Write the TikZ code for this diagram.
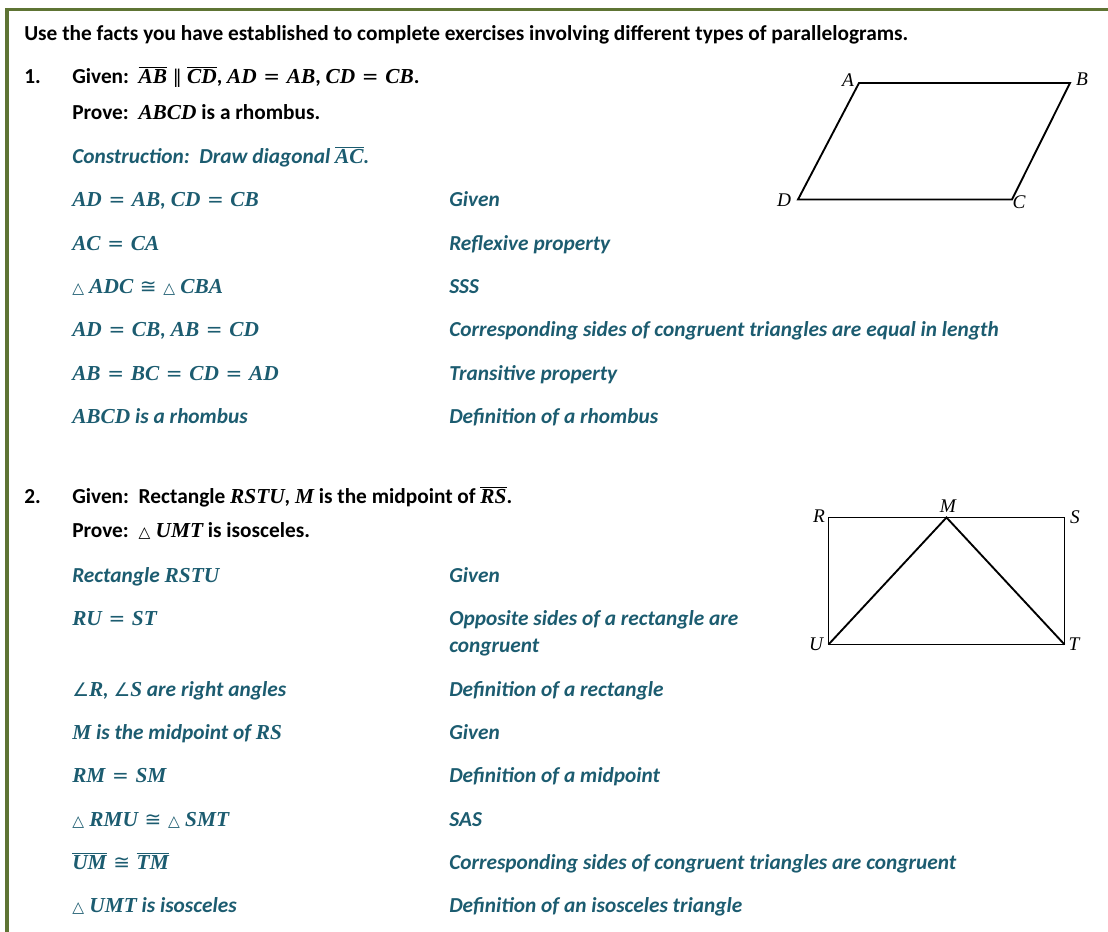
\documentclass[tikz,border=0pt]{standalone}
\usepackage{fontspec}
\setmainfont{Carlito}
\newfontfamily\lblfont{Liberation Serif}
\newfontfamily\symfont{DejaVu Sans}
\newcommand{\mt}[1]{{\lblfont\bfseries\itshape #1}}
\newcommand{\sym}[2][16]{{\symfont\mdseries\upshape\fontsize{#1}{#1}\selectfont #2}}
\newcommand{\eqq}{\hspace{5pt}\sym[15]{=}\hspace{5pt}}
\newcommand{\cgg}{\hspace{5pt}\sym[15]{≅}\hspace{5pt}}
\newcommand{\trg}{\sym[11.5]{△}\hspace{4pt}}
\newcommand{\ovl}[1]{$\overline{\hbox{\mt{#1}}}$}
\definecolor{tealtxt}{RGB}{28,92,112}
\definecolor{olivebd}{RGB}{94,116,52}
\tikzset{
  txt/.style={anchor=base west, inner sep=0pt, font=\fontsize{16}{19}\selectfont\bfseries},
  stmt/.style={txt, text=tealtxt, font=\fontsize{16}{19}\selectfont\bfseries\itshape},
  lbl/.style={inner sep=0pt, font=\fontsize{14.5}{16}\selectfont\lblfont\itshape},
  fig/.style={line width=1.4pt, line join=miter},
  border/.style={olivebd, line width=2.4pt}
}
\begin{document}
\begin{tikzpicture}[x=0.75pt,y=-0.75pt]
\useasboundingbox (0,0) rectangle (1108,932);
% border
\coordinate (b1) at (7,932);
\coordinate (b2) at (7,9.5);
\coordinate (b3) at (1108,9.5);
\draw[border] (b1) -- (b2) -- (b3);

\node[txt] (intro) at (24,40) {Use the facts you have established to complete exercises involving different types of parallelograms.};

% ---- Exercise 1
\node[txt] (n1) at (24,83) {1.};
\node[txt] (g1) at (72,83) {Given:\ \ \ovl{AB}\hspace{4pt}\sym[14]{∥}\hspace{4pt}\ovl{CD}, \mt{AD}\eqq\mt{AB}, \mt{CD}\eqq\mt{CB}.};
\node[txt] (p1) at (72,119) {Prove:\ \ \mt{ABCD} is a rhombus.};
\node[stmt] (c1) at (72,163) {Construction:\ \ Draw diagonal \ovl{AC}.};

\node[stmt] (s11) at (72,206.5) {\mt{AD}\eqq\mt{AB}, \mt{CD}\eqq\mt{CB}};
\node[stmt] (r11) at (449,206.5) {Given};
\node[stmt] (s12) at (72,250) {\mt{AC}\eqq\mt{CA}};
\node[stmt] (r12) at (449,250) {Reflexive property};
\node[stmt] (s13) at (72,293.5) {\trg\mt{ADC}\cgg\trg\mt{CBA}};
\node[stmt] (r13) at (449,293.5) {SSS};
\node[stmt] (s14) at (72,336.5) {\mt{AD}\eqq\mt{CB}, \mt{AB}\eqq\mt{CD}};
\node[stmt] (r14) at (449,336.5) {Corresponding sides of congruent triangles are equal in length};
\node[stmt] (s15) at (72,380) {\mt{AB}\eqq\mt{BC}\eqq\mt{CD}\eqq\mt{AD}};
\node[stmt] (r15) at (449,380) {Transitive property};
\node[stmt] (s16) at (72,423) {\mt{ABCD} is a rhombus};
\node[stmt] (r16) at (449,423) {Definition of a rhombus};

% parallelogram
\coordinate (A) at (859,83);
\coordinate (B) at (1070,83);
\coordinate (C) at (1012,199.5);
\coordinate (D) at (798,199.5);
\draw[fig] (A) -- (B) -- (C) -- (D) -- cycle;
\node[lbl] (lA) at (848,80) {A};
\node[lbl] (lB) at (1082,79) {B};
\node[lbl] (lC) at (1019,202) {C};
\node[lbl] (lD) at (784,200) {D};

% ---- Exercise 2
\node[txt] (n2) at (24,503) {2.};
\node[txt] (g2) at (72,503) {Given:\ \ Rectangle \mt{RSTU}, \mt{M} is the midpoint of \ovl{RS}.};
\node[txt] (p2) at (72,537.5) {Prove:\ \ \trg\mt{UMT} is isosceles.};

\node[stmt] (s21) at (72,582) {Rectangle \mt{RSTU}};
\node[stmt] (r21) at (449,582) {Given};
\node[stmt] (s22) at (72,625.5) {\mt{RU}\eqq\mt{ST}};
\node[stmt] (r22) at (449,625.5) {Opposite sides of a rectangle are};
\node[stmt] (r22b) at (449,652) {congruent};
\node[stmt] (s23) at (72,696) {\sym[14]{∠}\mt{R}, \sym[14]{∠}\mt{S} are right angles};
\node[stmt] (r23) at (449,696) {Definition of a rectangle};
\node[stmt] (s24) at (72,739) {\mt{M} is the midpoint of \mt{RS}};
\node[stmt] (r24) at (449,739) {Given};
\node[stmt] (s25) at (72,782.5) {\mt{RM}\eqq\mt{SM}};
\node[stmt] (r25) at (449,782.5) {Definition of a midpoint};
\node[stmt] (s26) at (72,826) {\trg\mt{RMU}\cgg\trg\mt{SMT}};
\node[stmt] (r26) at (449,826) {SAS};
\node[stmt] (s27) at (72,869) {\ovl{UM}\cgg\ovl{TM}};
\node[stmt] (r27) at (449,869) {Corresponding sides of congruent triangles are congruent};
\node[stmt] (s28) at (72,912.5) {\trg\mt{UMT} is isosceles};
\node[stmt] (r28) at (449,912.5) {Definition of an isosceles triangle};

% rectangle
\coordinate (R) at (828.5,517.5);
\coordinate (S) at (1064.5,517.5);
\coordinate (T) at (1064.5,644.5);
\coordinate (U) at (828.5,644.5);
\coordinate (M) at (946.5,517.5);
\draw[fig] (R) -- (S) -- (T) -- (U) -- cycle;
\draw[fig] (U) -- (M) -- (T);
\node[lbl] (lR) at (819,516) {R};
\node[lbl] (lS) at (1075,517) {S};
\node[lbl] (lM) at (948,506) {M};
\node[lbl] (lU) at (816,644) {U};
\node[lbl] (lT) at (1074,644) {T};
\end{tikzpicture}
\end{document}
